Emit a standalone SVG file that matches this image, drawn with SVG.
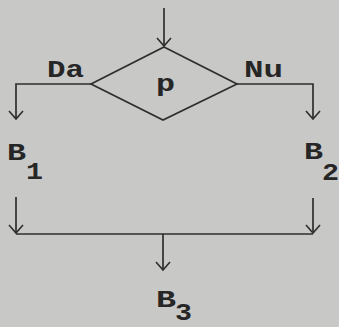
<svg xmlns="http://www.w3.org/2000/svg" width="339" height="327" viewBox="0 0 339 327">
  <defs>
    <marker id="arr" viewBox="-10 -9 12 18" markerWidth="12" markerHeight="18" refX="0" refY="0" orient="auto" markerUnits="userSpaceOnUse">
      <path d="M-8,-7 L0,0 L-8,7" fill="none" stroke="#2e2e2e" stroke-width="1.6"/>
    </marker>
    <style>
      .ln { fill: none; stroke: #2e2e2e; stroke-width: 1.7; }
      .tx { font-family: "Liberation Mono", "Courier New", monospace; font-weight: bold; fill: #262626; font-size: 24px; }
    </style>
  </defs>
  <rect x="0" y="0" width="339" height="327" fill="#c8c8c6"/>
  <g id="connectors">
    <path class="ln" d="M164,8 V46" marker-end="url(#arr)"/>
    <path class="ln" d="M91,84 H16 V119" marker-end="url(#arr)"/>
    <path class="ln" d="M237,84 H313 V119" marker-end="url(#arr)"/>
    <path class="ln" d="M16,197 V233" marker-end="url(#arr)"/>
    <path class="ln" d="M313,198 V233" marker-end="url(#arr)"/>
    <path class="ln" d="M16,234 H313"/>
    <path class="ln" d="M163,234 V270" marker-end="url(#arr)"/>
    <text class="tx" x="47" y="77" textLength="37" lengthAdjust="spacingAndGlyphs">Da</text>
    <text class="tx" x="244" y="77" textLength="39" lengthAdjust="spacingAndGlyphs">Nu</text>
  </g>
  <g id="decision">
    <polygon class="ln" points="164,47 237,84 163,120 91,84"/>
    <text class="tx" x="156" y="91" textLength="19" lengthAdjust="spacingAndGlyphs">p</text>
  </g>
  <g id="B1">
    <text class="tx" x="7" y="160" textLength="19" lengthAdjust="spacingAndGlyphs">B</text>
    <text class="tx" x="26" y="179" textLength="17" lengthAdjust="spacingAndGlyphs">1</text>
  </g>
  <g id="B2">
    <text class="tx" x="304" y="159" textLength="19" lengthAdjust="spacingAndGlyphs">B</text>
    <text class="tx" x="322" y="180" textLength="17" lengthAdjust="spacingAndGlyphs">2</text>
  </g>
  <g id="B3">
    <text class="tx" x="156" y="307" textLength="20" lengthAdjust="spacingAndGlyphs">B</text>
    <text class="tx" x="175" y="320" textLength="17" lengthAdjust="spacingAndGlyphs">3</text>
  </g>
</svg>
